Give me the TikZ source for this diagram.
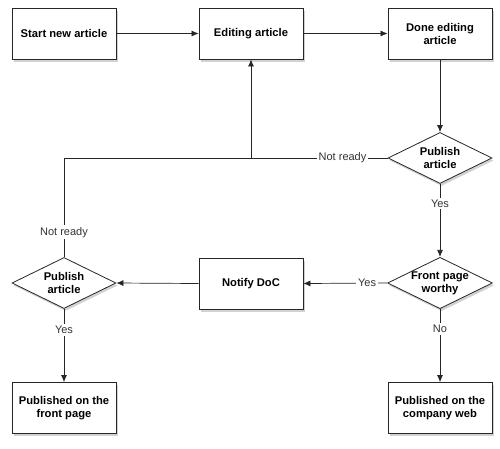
\documentclass[tikz,border=0pt]{standalone}
\usepackage{fontspec}
\setmainfont{Liberation Sans}
\usetikzlibrary{shapes.geometric,shadows,arrows.meta}
\begin{document}
\begin{tikzpicture}[x=1pt,y=-1pt,
  box/.style={draw=black!85,line width=0.8pt,fill=white,minimum width=104pt,minimum height=51pt,inner sep=2pt,align=center,font=\fontsize{11.2}{13}\selectfont\bfseries,drop shadow={shadow xshift=1.5pt,shadow yshift=-2.5pt,opacity=0.35}},
  dia/.style={diamond,draw=black!85,line width=0.8pt,fill=white,minimum width=104pt,minimum height=51pt,aspect=2.04,inner sep=0pt,align=center,font=\fontsize{11.2}{13}\selectfont\bfseries,drop shadow={shadow xshift=1.5pt,shadow yshift=-2.5pt,opacity=0.35}},
  lbl/.style={fill=white,inner sep=2pt,font=\fontsize{11}{13}\selectfont,text=black!80},
  conn/.style={draw=black!85,line width=0.7pt},
  arr/.style={conn,-{Latex[length=7pt,width=6pt]}}]
\useasboundingbox (0,0) rectangle (500,448);
\fill[white] (0,0) rectangle (500,448);
\node[box] (start) at (64,33.5) {Start new article};
\node[box] (edit) at (251,33.5) {Editing article};
\node[box] (done) at (440,33.5) {Done editing\\article};
\node[dia] (pub1) at (440,158) {Publish\\article};
\node[dia] (front) at (440,283) {Front page\\worthy};
\node[box] (notify) at (251,283.5) {Notify DoC};
\node[dia] (pub2) at (64,283) {Publish\\article};
\node[box] (pfront) at (64,408) {Published on the\\front page};
\node[box] (pweb) at (440,408) {Published on the\\company web};
\coordinate (j1) at (251,158);
\coordinate (j2) at (64,158);
\draw[arr] (start) -- (edit);
\draw[arr] (edit) -- (done);
\draw[arr] (done) -- (pub1);
\draw[conn] (pub1.west) -- node[lbl,pos=0.33] {Not ready} (j1);
\draw[arr] (j1) -- (edit.south);
\draw[conn] (pub2.north) -- node[lbl,pos=0.25] {Not ready} (j2) -- (j1);
\draw[arr] (pub1.south) -- node[lbl,pos=0.27] {Yes} (front.north);
\draw[arr] (front.west) -- node[lbl,pos=0.24] {Yes} (notify.east);
\draw[arr] (notify.west) -- (pub2.east);
\draw[arr] (pub2.south) -- node[lbl,pos=0.29] {Yes} (pfront.north);
\draw[arr] (front.south) -- node[lbl,pos=0.27] {No} (pweb.north);
\end{tikzpicture}
\end{document}
